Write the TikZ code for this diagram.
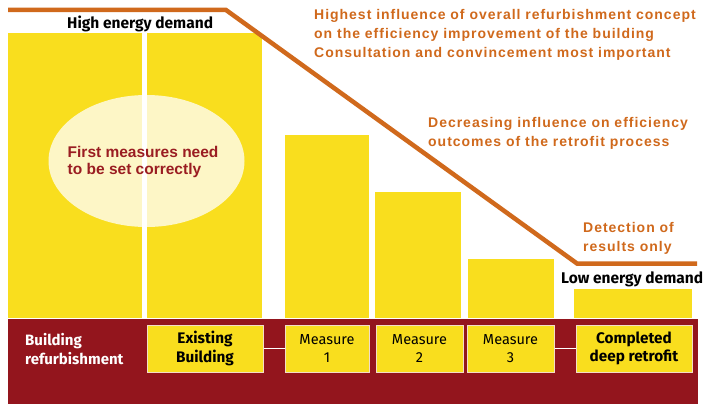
\documentclass[tikz,border=0pt]{standalone}
\usepackage{fontspec}
\setmainfont{Liberation Sans}
\newfontfamily\myr{Fira Sans}
\newfontfamily\orgfont[LetterSpace=7]{Liberation Sans}
\definecolor{barY}{HTML}{F9DE1E}
\definecolor{band}{HTML}{93151D}
\definecolor{orangeL}{HTML}{D0691C}
\definecolor{redT}{HTML}{9A1D22}
\definecolor{boxB}{HTML}{F3DCC8}
\tikzset{
  bar/.style={fill=barY},
  boxnode/.style={draw=boxB, line width=1pt, fill=barY, inner sep=0pt, align=center, minimum height=47pt},
  boldbox/.style={boxnode, font=\myr\bfseries\fontsize{15.3}{18.5}\selectfont},
  regbox/.style={boxnode, font=\myr\fontsize{14.5}{18}\selectfont},
  otext/.style={text=orangeL, font=\orgfont\bfseries\fontsize{14}{18}\selectfont, inner sep=0pt, anchor=base west},
  rtext/.style={text=redT, font=\bfseries\fontsize{15.5}{18}\selectfont, inner sep=0pt, anchor=base west},
  ktext/.style={text=black, font=\myr\bfseries\fontsize{15.5}{18}\selectfont, inner sep=0pt, anchor=base west},
  wtext/.style={text=white, font=\myr\bfseries\fontsize{15}{18}\selectfont, inner sep=0pt, anchor=base west},
  link/.style={draw=white, line width=1.3pt}
}
\begin{document}
\begin{tikzpicture}[x=1pt,y=-1pt]
\useasboundingbox[fill=white] (0,0) rectangle (707,404);
% bars
\fill[bar] (8,33) rectangle (142,317.5);
\fill[bar] (147,33) rectangle (262,317.5);
\fill[bar] (285,135) rectangle (368.5,317.5);
\fill[bar] (375,192) rectangle (461,317.5);
\fill[bar] (468,259) rectangle (554,317.5);
\fill[bar] (574,289) rectangle (692,317.5);
% ellipse
\fill[white, opacity=0.75] (146.5,161) ellipse [x radius=98pt, y radius=66pt];
% band
\fill[band] (8,319) rectangle (698,404);
% orange line
\draw[orangeL, line width=4.5pt] (8,10) -- (226,10) -- (577,263.5) -- (697,263.5);
% texts
\node[ktext] (hed) at (67,28.3) {High energy demand};
\node[ktext] (led) at (561,283.3) {Low energy demand};
\node[otext] (o1) at (314,19.5) {Highest influence of overall refurbishment concept};
\node[otext] (o2) at (314,38.5) {on the efficiency improvement of the building};
\node[otext] (o3) at (314,57.3) {Consultation and convincement most important};
\node[otext] (d1) at (428,127.3) {Decreasing influence on efficiency};
\node[otext] (d2) at (428,146.7) {outcomes of the retrofit process};
\node[otext] (t1) at (583,232.7) {Detection of};
\node[otext] (t2) at (583,251.7) {results only};
\node[rtext] (f1) at (67.5,157.3) {First measures need};
\node[rtext] (f2) at (67.5,174.5) {to be set correctly};
\node[wtext] (b1) at (25,345.7) {Building};
\node[wtext] (b2) at (25,364) {refurbishment};
% boxes
\node[boldbox, minimum width=116pt] (eb) at (205,348.5) {Existing\\Building};
\node[regbox, minimum width=84pt] (m1) at (327,348.5) {Measure\\1};
\node[regbox, minimum width=87pt] (m2) at (419.5,348.5) {Measure\\2};
\node[regbox, minimum width=87pt] (m3) at (510.5,348.5) {Measure\\3};
\node[boldbox, minimum width=116pt] (cd) at (634,348.5) {Completed\\deep retrofit};
\draw[link] (eb.east) -- (m1.west);
\draw[link] (m3.east) -- (cd.west);
\end{tikzpicture}
\end{document}
